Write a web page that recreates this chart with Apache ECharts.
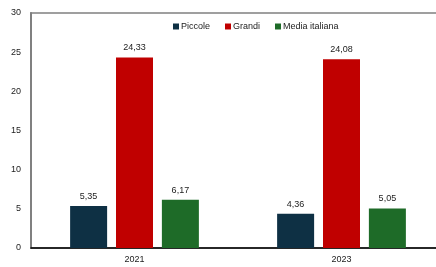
<!DOCTYPE html>
<html><head><meta charset="utf-8">
<script src="https://cdn.jsdelivr.net/npm/echarts@6/dist/echarts.min.js"></script>
<style>html,body{margin:0;padding:0;background:#fff}#c{width:436px;height:267px}</style>
</head><body><div id="c"></div>
<script>
var categories = ['2021', '2023'];
var piccole = [5.35, 4.36];
var grandi = [24.33, 24.08];
var media = [6.17, 5.05];
var seriesNames = ['Piccole', 'Grandi', 'Media italiana'];
var colors = ['#0e3044', '#c00000', '#1e6b28'];
var yTicks = {min: 0, max: 30, interval: 5};

var chart = echarts.init(document.getElementById('c'), null, {renderer: 'canvas'});
var fmt = function (p) { return p.value.toFixed(2).replace('.', ','); };
var lbl = {show: true, position: 'top', distance: 5, formatter: fmt, fontFamily: 'Liberation Sans, Arial', fontSize: 9, color: '#222'};
function mk(name, data, i) {
  return {name: name, type: 'bar', data: data, barWidth: 37, barGap: '24%',
    itemStyle: {color: colors[i]}, label: lbl};
}
chart.setOption({
  animation: false,
  textStyle: {fontFamily: 'Liberation Sans, Arial'},
  legend: {top: 17, left: 168, itemWidth: 6, itemHeight: 6, itemGap: 15,
    icon: 'rect', textStyle: {fontSize: 9, color: '#222', padding: [0, 0, 0, -3]},
    data: seriesNames},
  grid: {left: 31, width: 414, top: 13, bottom: 19, show: true, borderColor: '#808080', borderWidth: 1.5,
    outerBoundsMode: 'none', containLabel: false},
  xAxis: {type: 'category', data: categories,
    axisLine: {lineStyle: {color: '#000', width: 1.5}}, axisTick: {show: false},
    axisLabel: {fontSize: 9, color: '#222', margin: 7}},
  yAxis: {type: 'value', min: yTicks.min, max: yTicks.max, interval: yTicks.interval,
    splitLine: {show: false},
    axisLine: {show: true, lineStyle: {color: '#808080', width: 2}}, axisTick: {show: false},
    axisLabel: {fontSize: 9, color: '#222', margin: 10}},
  series: [mk(seriesNames[0], piccole, 0), mk(seriesNames[1], grandi, 1), mk(seriesNames[2], media, 2)]
});
</script></body></html>
